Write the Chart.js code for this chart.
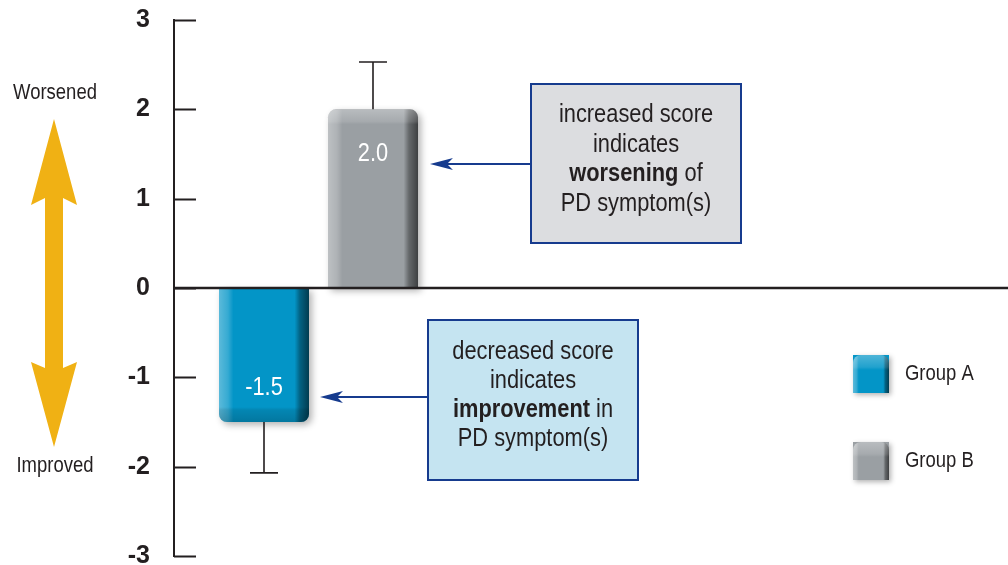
<!DOCTYPE html>
<html lang="en">
<head>
<meta charset="utf-8">
<title>PD symptom score change</title>
<script src="https://cdn.jsdelivr.net/npm/chart.js"></script>
<style>
  body { margin: 0; background: #fff; }
  #wrap { width: 1008px; height: 565px; }
</style>
</head>
<body>
<div id="wrap"><canvas id="scoreChart" width="1008" height="565"></canvas></div>
<script>
  // chart data
  const groups = ['Group A', 'Group B'];
  const values = [-1.5, 2.0];
  const errors = [0.57, 0.53];
  const valueLabels = ['-1.5', '2.0'];
  const yMin = -3, yMax = 3, yStep = 1;
  const barColors = ['#0395c7', '#9a9fa3'];

  const face = "'Liberation Sans', Arial, sans-serif";
  const squeeze = 0.84;   // no condensed face installed, so squeeze the regular one
  const ink = '#231f20';
  const navy = '#163b8e';

  function fontOf(size, bold) {
    return (bold ? 'bold ' : '') + size + 'px ' + face;
  }

  // condensed-looking text
  function narrowText(ctx, str, x, y, size, bold, align) {
    ctx.save();
    ctx.font = fontOf(size, bold);
    ctx.textAlign = align || 'center';
    ctx.textBaseline = 'middle';
    ctx.translate(x, y);
    ctx.scale(squeeze, 1);
    ctx.fillText(str, 0, 0);
    ctx.restore();
  }

  // a line made of regular / bold pieces, centred on cx
  function mixedLine(ctx, parts, cx, y, size) {
    let total = 0;
    parts.forEach(p => {
      ctx.font = fontOf(size, p[1]);
      total += ctx.measureText(p[0]).width * squeeze;
    });
    let x = cx - total / 2;
    parts.forEach(p => {
      narrowText(ctx, p[0], x, y, size, p[1], 'left');
      ctx.font = fontOf(size, p[1]);
      x += ctx.measureText(p[0]).width * squeeze;
    });
  }

  function leftArrow(ctx, x1, x2, y) {
    ctx.strokeStyle = navy;
    ctx.fillStyle = navy;
    ctx.lineWidth = 2;
    ctx.beginPath();
    ctx.moveTo(x1, y);
    ctx.lineTo(x2 + 15, y);
    ctx.stroke();
    ctx.beginPath();
    ctx.moveTo(x2, y);
    ctx.lineTo(x2 + 23, y - 6);
    ctx.lineTo(x2 + 17, y);
    ctx.lineTo(x2 + 23, y + 6);
    ctx.closePath();
    ctx.fill();
  }

  // 3D look on a bar: light left edge, dark right edge, band at the far end
  function bevel(ctx, left, top, w, h, up) {
    ctx.save();
    ctx.beginPath();
    ctx.roundRect(left, top, w, h, up ? [8, 8, 0, 0] : [0, 0, 8, 8]);
    ctx.clip();
    const g = ctx.createLinearGradient(left, 0, left + w, 0);
    g.addColorStop(0, 'rgba(255,255,255,0.35)');
    g.addColorStop(0.1, 'rgba(255,255,255,0.2)');
    g.addColorStop(0.16, 'rgba(255,255,255,0)');
    g.addColorStop(0.84, 'rgba(0,0,0,0)');
    g.addColorStop(0.9, 'rgba(0,0,0,0.35)');
    g.addColorStop(1, 'rgba(0,0,0,0.6)');
    ctx.fillStyle = g;
    ctx.fillRect(left, top, w, h);
    const endY = up ? top : top + h;
    const g2 = ctx.createLinearGradient(0, endY, 0, endY + (up ? 15 : -15));
    if (up) {
      g2.addColorStop(0, 'rgba(255,255,255,0.3)');
      g2.addColorStop(0.8, 'rgba(255,255,255,0.12)');
      g2.addColorStop(1, 'rgba(255,255,255,0)');
    } else {
      g2.addColorStop(0, 'rgba(0,0,0,0.2)');
      g2.addColorStop(0.8, 'rgba(0,0,0,0.1)');
      g2.addColorStop(1, 'rgba(0,0,0,0)');
    }
    ctx.fillStyle = g2;
    ctx.fillRect(left, top, w, h);
    ctx.restore();
  }

  const decor = {
    id: 'decor',
    beforeDatasetsDraw(chart) {
      const ctx = chart.ctx;
      ctx.save();
      ctx.shadowColor = 'rgba(0,0,0,0.3)';
      ctx.shadowBlur = 7;
      ctx.shadowOffsetX = 3;
      ctx.shadowOffsetY = 3;
    },
    afterDatasetsDraw(chart) {
      const ctx = chart.ctx;
      ctx.restore();
      const y = chart.scales.y;
      const area = chart.chartArea;

      chart.data.datasets.forEach((ds, i) => {
        const el = chart.getDatasetMeta(i).data[0];
        const up = el.y < el.base;
        const w = el.width, left = el.x - w / 2;
        const top = Math.min(el.y, el.base), h = Math.abs(el.base - el.y);
        bevel(ctx, left, top, w, h, up);

        // error bar
        const v = ds.data[0];
        const ey = y.getPixelForValue(up ? v + errors[i] : v - errors[i]);
        ctx.strokeStyle = ink;
        ctx.lineWidth = 1.6;
        ctx.beginPath();
        ctx.moveTo(el.x, el.y);
        ctx.lineTo(el.x, ey);
        ctx.moveTo(el.x - 14, ey);
        ctx.lineTo(el.x + 14, ey);
        ctx.stroke();

        // value label inside the bar
        ctx.fillStyle = '#ffffff';
        narrowText(ctx, valueLabels[i], el.x, up ? el.y + 44 : el.y - 34, 26, false);
      });

      // zero line across the whole width
      const y0 = y.getPixelForValue(0);
      ctx.strokeStyle = ink;
      ctx.lineWidth = 2.5;
      ctx.beginPath();
      ctx.moveTo(area.left, y0);
      ctx.lineTo(chart.width, y0);
      ctx.stroke();

      // inward tick marks
      ctx.lineWidth = 2;
      ctx.beginPath();
      y.ticks.forEach(t => {
        const py = Math.round(y.getPixelForValue(t.value)) + 0.5;
        ctx.moveTo(area.left, py);
        ctx.lineTo(area.left + 22, py);
      });
      ctx.stroke();

      // yellow double arrow with captions
      ctx.fillStyle = '#f0b114';
      ctx.beginPath();
      ctx.moveTo(54, 119);
      ctx.lineTo(77, 205);
      ctx.lineTo(63, 198);
      ctx.lineTo(63, 368);
      ctx.lineTo(77, 362);
      ctx.lineTo(54, 447);
      ctx.lineTo(31, 362);
      ctx.lineTo(45, 368);
      ctx.lineTo(45, 198);
      ctx.lineTo(31, 205);
      ctx.closePath();
      ctx.fill();
      ctx.fillStyle = ink;
      narrowText(ctx, 'Worsened', 55, 93, 22, false);
      narrowText(ctx, 'Improved', 55, 466, 22, false);

      // annotation boxes
      ctx.lineWidth = 2;
      ctx.strokeStyle = navy;
      ctx.fillStyle = '#dcdde0';
      ctx.fillRect(531, 84, 210, 159);
      ctx.strokeRect(531, 84, 210, 159);
      ctx.fillStyle = '#c5e4f1';
      ctx.fillRect(428, 320, 210, 160);
      ctx.strokeRect(428, 320, 210, 160);

      ctx.fillStyle = ink;
      const box1 = [[['increased score']], [['indicates']], [['worsening', true], [' of']], [['PD symptom(s)']]];
      box1.forEach((parts, k) => mixedLine(ctx, parts, 636, 115 + k * 29.5, 26));
      const box2 = [[['decreased score']], [['indicates']], [['improvement', true], [' in']], [['PD symptom(s)']]];
      box2.forEach((parts, k) => mixedLine(ctx, parts, 533, 352 + k * 29, 26));

      const elA = chart.getDatasetMeta(0).data[0];
      const elB = chart.getDatasetMeta(1).data[0];
      leftArrow(ctx, 531, elB.x + elB.width / 2 + 12, 164);
      leftArrow(ctx, 428, elA.x + elA.width / 2 + 11, 397);

      // legend
      chart.data.datasets.forEach((ds, i) => {
        const ly = 355 + i * 87;
        ctx.save();
        ctx.shadowColor = 'rgba(0,0,0,0.3)';
        ctx.shadowBlur = 5;
        ctx.shadowOffsetX = 2;
        ctx.shadowOffsetY = 2;
        ctx.fillStyle = ds.backgroundColor;
        ctx.fillRect(853, ly, 36, 38);
        ctx.restore();
        bevel(ctx, 853, ly, 36, 38, true);
        ctx.fillStyle = ink;
        narrowText(ctx, ds.label, 905, ly + 19, 22, false, 'left');
      });
    }
  };

  window.onload = function() {
    const ctx = document.getElementById('scoreChart').getContext('2d');
    new Chart(ctx, {
      type: 'bar',
      data: {
        labels: [''],
        datasets: groups.map((g, i) => ({
          label: g,
          data: [values[i]],
          backgroundColor: barColors[i],
          borderWidth: 0,
          borderRadius: 8,
          categoryPercentage: 0.7543,
          barPercentage: 0.8257
        }))
      },
      options: {
        responsive: false,
        animation: false,
        devicePixelRatio: 1,
        layout: { padding: { left: 0, right: 545, top: 20, bottom: 9 } },
        scales: {
          x: { display: false },
          y: {
            min: yMin,
            max: yMax,
            ticks: {
              stepSize: yStep,
              padding: 24,
              color: ink,
              font: { family: face, size: 25, weight: 'bold' }
            },
            grid: { display: false, drawTicks: false },
            border: { display: true, color: ink, width: 2 },
            afterFit(scale) {
              scale.width = 174;
              scale.paddingTop = 0;
              scale.paddingBottom = 0;
            }
          }
        },
        plugins: {
          legend: { display: false },
          tooltip: { enabled: false }
        }
      },
      plugins: [decor]
    });
  };
</script>
</body>
</html>
